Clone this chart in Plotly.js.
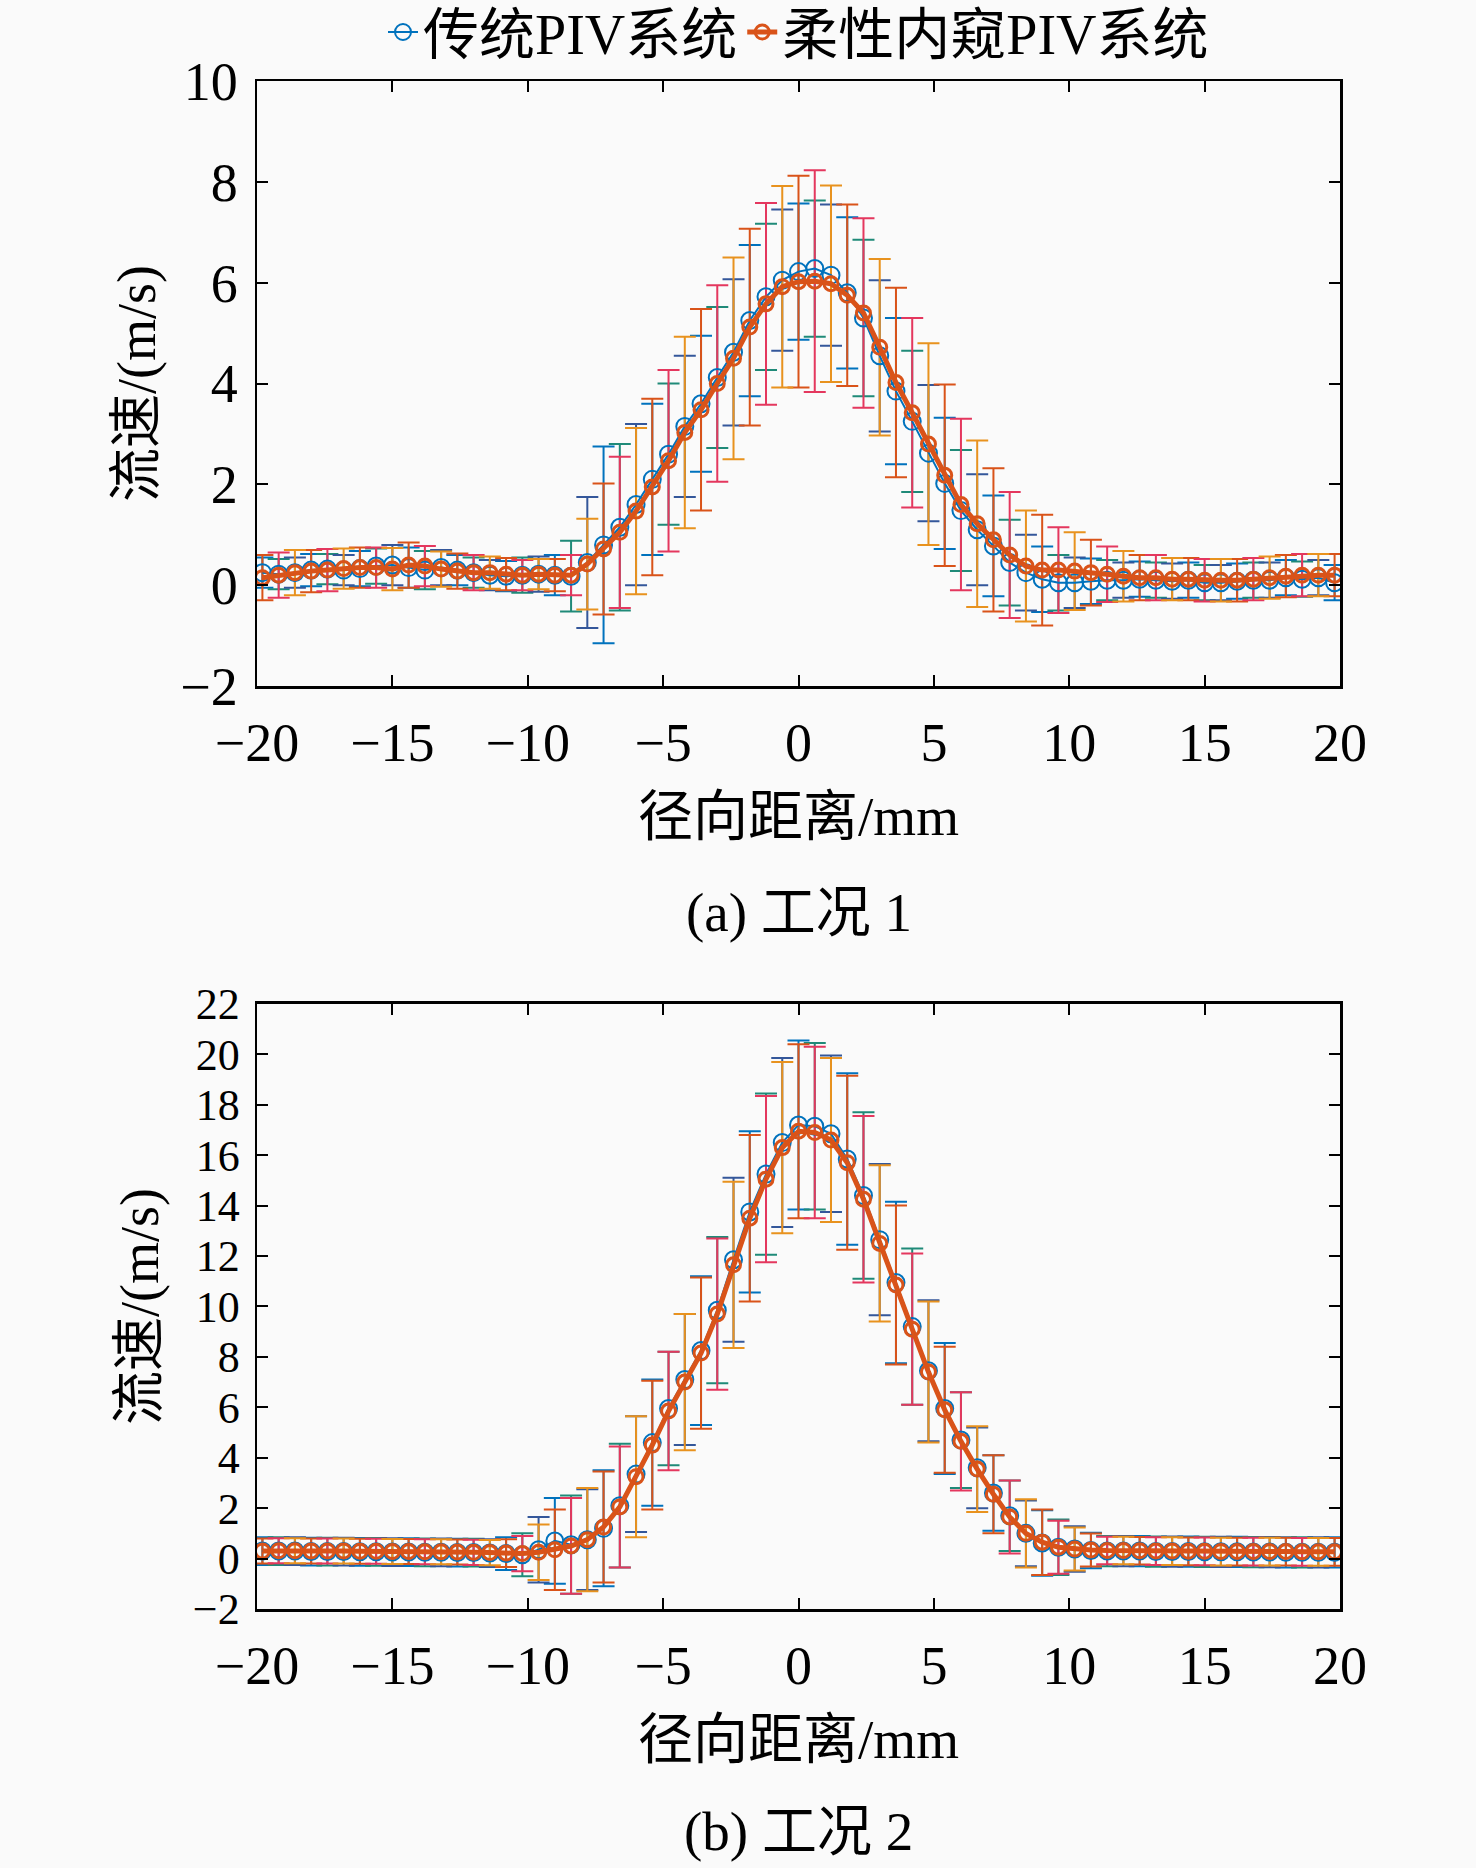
<!DOCTYPE html>
<html>
<head>
<meta charset="utf-8">
<script src="https://cdn.plot.ly/plotly-3.0.1.min.js"></script>
<style>html,body{margin:0;padding:0;background:#fafafa;}</style>
</head>
<body>
<div id="chart" style="width:1476px;height:1868px;"></div>
<script>
// radial position (mm)
const xPos = [-19.8,-19.2,-18.6,-18,-17.4,-16.8,-16.2,-15.6,-15,-14.4,
  -13.8,-13.2,-12.6,-12,-11.4,-10.8,-10.2,-9.6,-9,-8.4,
  -7.8,-7.2,-6.6,-6,-5.4,-4.8,-4.2,-3.6,-3,-2.4,
  -1.8,-1.2,-0.6,0,0.6,1.2,1.8,2.4,3,3.6,
  4.2,4.8,5.4,6,6.6,7.2,7.8,8.4,9,9.6,
  10.2,10.8,11.4,12,12.6,13.2,13.8,14.4,15,15.6,
  16.2,16.8,17.4,18,18.6,19.2,19.8];

// Case 1 — conventional PIV
const case1Conv = [0.25,0.22,0.25,0.30,0.32,0.30,0.33,0.38,0.40,0.35,
  0.30,0.35,0.30,0.25,0.20,0.18,0.20,0.22,0.20,0.18,
  0.45,0.80,1.15,1.60,2.10,2.60,3.15,3.60,4.12,4.62,
  5.25,5.72,6.05,6.22,6.28,6.15,5.80,5.30,4.55,3.85,
  3.25,2.62,2.02,1.48,1.10,0.78,0.45,0.25,0.12,0.05,
  0.05,0.08,0.10,0.10,0.12,0.10,0.08,0.10,0.05,0.05,
  0.08,0.10,0.10,0.15,0.12,0.15,0.05];
const case1ConvErr = [0.30,0.30,0.30,0.32,0.30,0.30,0.35,0.35,0.40,0.40,
  0.38,0.35,0.30,0.30,0.30,0.30,0.35,0.35,0.40,0.70,
  1.30,1.95,1.65,1.60,1.50,1.40,1.40,1.35,1.40,1.45,
  1.50,1.45,1.40,1.35,1.35,1.40,1.50,1.55,1.50,1.45,
  1.40,1.35,1.30,1.20,1.10,1.00,0.85,0.75,0.65,0.55,
  0.50,0.45,0.40,0.35,0.35,0.35,0.35,0.35,0.35,0.35,
  0.35,0.35,0.35,0.35,0.35,0.35,0.35];
// Case 1 — flexible endoscopic PIV
const case1Endo = [0.15,0.20,0.25,0.28,0.30,0.33,0.35,0.35,0.32,0.40,
  0.38,0.32,0.28,0.25,0.25,0.22,0.20,0.22,0.20,0.20,
  0.42,0.72,1.05,1.47,1.95,2.47,3.03,3.48,4.00,4.50,
  5.12,5.58,5.92,6.02,6.03,5.98,5.75,5.40,4.72,4.02,
  3.42,2.80,2.18,1.60,1.22,0.90,0.60,0.38,0.30,0.30,
  0.28,0.25,0.22,0.18,0.15,0.15,0.12,0.12,0.10,0.10,
  0.10,0.12,0.15,0.18,0.20,0.20,0.20];
const case1EndoErr = [0.45,0.45,0.45,0.42,0.42,0.40,0.40,0.40,0.42,0.45,
  0.40,0.35,0.35,0.35,0.32,0.32,0.30,0.30,0.32,0.40,
  0.90,1.30,1.50,1.65,1.75,1.80,1.90,2.00,1.95,2.00,
  1.95,2.00,2.00,2.10,2.20,1.95,1.80,1.88,1.75,1.88,
  1.88,2.00,1.80,1.70,1.65,1.42,1.25,1.10,1.10,0.85,
  0.77,0.65,0.55,0.50,0.45,0.45,0.42,0.42,0.42,0.42,
  0.42,0.42,0.42,0.42,0.42,0.42,0.42];

// Case 2 — conventional PIV
const case2Conv = [0.30,0.30,0.30,0.28,0.28,0.28,0.27,0.27,0.26,0.26,
  0.25,0.25,0.24,0.24,0.22,0.20,0.15,0.35,0.70,0.55,
  0.75,1.20,2.10,3.35,4.60,5.95,7.10,8.25,9.85,11.85,
  13.75,15.25,16.50,17.20,17.15,16.85,15.85,14.40,12.65,10.95,
  9.20,7.45,5.95,4.70,3.60,2.60,1.70,1.00,0.62,0.45,
  0.38,0.32,0.30,0.30,0.30,0.28,0.28,0.28,0.27,0.27,
  0.27,0.26,0.26,0.25,0.25,0.25,0.25];
const case2ConvErr = [0.55,0.55,0.55,0.55,0.55,0.55,0.55,0.55,0.55,0.55,
  0.55,0.55,0.55,0.55,0.55,0.65,0.85,1.30,1.70,1.95,
  2.00,2.30,2.45,2.30,2.50,2.25,2.60,2.95,2.90,3.25,
  3.20,3.20,3.35,3.35,3.30,3.10,3.40,3.30,3.00,3.20,
  3.10,2.80,2.60,1.90,1.60,1.50,1.40,1.30,1.30,1.10,
  0.90,0.70,0.60,0.60,0.60,0.60,0.60,0.60,0.60,0.60,
  0.60,0.60,0.60,0.60,0.60,0.60,0.60];
// Case 2 — flexible endoscopic PIV
const case2Endo = [0.30,0.31,0.31,0.30,0.30,0.30,0.29,0.29,0.28,0.28,
  0.27,0.27,0.26,0.25,0.24,0.22,0.20,0.25,0.35,0.50,
  0.75,1.25,2.05,3.25,4.50,5.85,7.00,8.15,9.70,11.65,
  13.50,15.05,16.30,16.95,16.90,16.60,15.70,14.25,12.50,10.85,
  9.10,7.40,5.90,4.65,3.55,2.55,1.65,1.00,0.65,0.45,
  0.38,0.34,0.32,0.32,0.31,0.30,0.30,0.29,0.29,0.28,
  0.28,0.28,0.28,0.28,0.27,0.27,0.27];
const case2EndoErr = [0.50,0.50,0.50,0.50,0.50,0.50,0.50,0.50,0.50,0.50,
  0.50,0.50,0.50,0.50,0.50,0.55,0.70,1.10,1.60,1.90,
  2.05,2.20,2.40,2.40,2.55,2.35,2.70,3.00,3.00,3.30,
  3.30,3.30,3.40,3.45,3.40,3.25,3.45,3.30,3.10,3.15,
  3.00,2.80,2.50,1.95,1.70,1.55,1.45,1.35,1.30,1.05,
  0.85,0.65,0.55,0.55,0.55,0.55,0.55,0.55,0.55,0.55,
  0.55,0.55,0.55,0.55,0.55,0.55,0.55];

const seriesNames = ['传统PIV系统', '柔性内窥PIV系统'];
const xTitle = '径向距离/mm';
const yTitle = '流速/(m/s)';
const captions = ['(a) 工况 1', '(b) 工况 2'];

const FONT = '"Liberation Serif", "Times New Roman", "Noto Sans CJK SC", serif';
const blueLine = '#0072BD';
const orangeLine = '#D95319';
const blueErrCols = ['#0072BD', '#1f8a78', '#34579a'];
const orangeErrCols = ['#D95319', '#E4375E', '#E8921E'];

function errTraces(x, y, e, cols, xa, ya) {
  const out = [];
  for (let k = 0; k < cols.length; k++) {
    const xs = [], ys = [], es = [];
    for (let i = 0; i < x.length; i++) {
      if (i % cols.length === k) { xs.push(x[i]); ys.push(y[i]); es.push(e[i]); }
    }
    out.push({
      type: 'scatter', mode: 'markers', x: xs, y: ys, xaxis: xa, yaxis: ya,
      marker: {size: 1, color: 'rgba(0,0,0,0)'},
      error_y: {type: 'data', array: es, visible: true, color: cols[k], thickness: 2, width: 11},
      showlegend: false, hoverinfo: 'skip'
    });
  }
  return out;
}

function lineTrace(x, y, name, color, lw, msize, mw, xa, ya, showLeg) {
  return {
    type: 'scatter', mode: 'lines+markers', x: x, y: y, name: name,
    xaxis: xa, yaxis: ya, showlegend: showLeg, legendgroup: name,
    line: {color: color, width: lw},
    marker: {symbol: 'circle-open', size: msize, color: color, line: {width: mw, color: color}}
  };
}

const data = [].concat(
  errTraces(xPos, case1Conv, case1ConvErr, blueErrCols, 'x', 'y'),
  errTraces(xPos, case1Endo, case1EndoErr, orangeErrCols, 'x', 'y'),
  [lineTrace(xPos, case1Conv, seriesNames[0], blueLine, 2, 17, 2, 'x', 'y', true),
   lineTrace(xPos, case1Endo, seriesNames[1], orangeLine, 5, 14, 3, 'x', 'y', true)],
  errTraces(xPos, case2Conv, case2ConvErr, blueErrCols, 'x2', 'y2'),
  errTraces(xPos, case2Endo, case2EndoErr, orangeErrCols, 'x2', 'y2'),
  [lineTrace(xPos, case2Conv, seriesNames[0], blueLine, 2, 17, 2, 'x2', 'y2', false),
   lineTrace(xPos, case2Endo, seriesNames[1], orangeLine, 5, 14, 3, 'x2', 'y2', false)]
);

const axisCommon = {
  showline: true, linecolor: '#000', linewidth: 2.5, mirror: 'ticks',
  ticks: 'inside', ticklen: 11, tickwidth: 2, tickcolor: '#000',
  showgrid: false, zeroline: false,
  tickfont: {family: FONT, size: 54, color: '#000'}
};
const xTitleObj = {text: xTitle, standoff: 24, font: {family: FONT, size: 55, color: '#000'}};
const yTitleObj = {text: yTitle, standoff: 8, font: {family: FONT, size: 54, color: '#000'}};
const yTitleObj2 = {text: yTitle, standoff: 17, font: {family: FONT, size: 54, color: '#000'}};

const layout = {
  width: 1476, height: 1868,
  margin: {l: 257, r: 136, t: 81, b: 259, autoexpand: false},
  paper_bgcolor: '#fafafa', plot_bgcolor: '#fafafa',
  font: {family: FONT, size: 54, color: '#000'},
  showlegend: true,
  legend: {orientation: 'h', x: 0.5, xanchor: 'center', y: 1.032, yanchor: 'middle',
           font: {family: FONT, size: 56, color: '#000'}, bgcolor: 'rgba(0,0,0,0)',
           itemwidth: 30, tracegroupgap: 0},
  xaxis: Object.assign({}, axisCommon, {domain: [0, 1], anchor: 'y', range: [-20, 20], dtick: 5, tick0: 0,
          ticklabelstandoff: 8, title: xTitleObj}),
  yaxis: Object.assign({}, axisCommon, {domain: [0.604, 1], anchor: 'x', range: [-2, 10], dtick: 2, tick0: 0,
          ticklabelstandoff: 6, title: yTitleObj}),
  xaxis2: Object.assign({}, axisCommon, {domain: [0, 1], anchor: 'y2', range: [-20, 20], dtick: 5, tick0: 0,
          ticklabelstandoff: 8, title: xTitleObj}),
  yaxis2: Object.assign({}, axisCommon, {domain: [0, 0.396], anchor: 'x2', range: [-2, 22], dtick: 2, tick0: 0,
          ticklabelstandoff: 6, title: yTitleObj2,
          tickfont: {family: FONT, size: 44, color: '#000'}}),
  annotations: [
    {text: captions[0], xref: 'paper', yref: 'paper', x: 0.5, y: 0.4555, xanchor: 'center', yanchor: 'middle',
     showarrow: false, font: {family: FONT, size: 55, color: '#000'}},
    {text: captions[1], xref: 'paper', yref: 'paper', x: 0.5, y: -0.1459, xanchor: 'center', yanchor: 'middle',
     showarrow: false, font: {family: FONT, size: 55, color: '#000'}}
  ]
};

Plotly.newPlot('chart', data, layout, {displayModeBar: false, staticPlot: true});
</script>
</body>
</html>
